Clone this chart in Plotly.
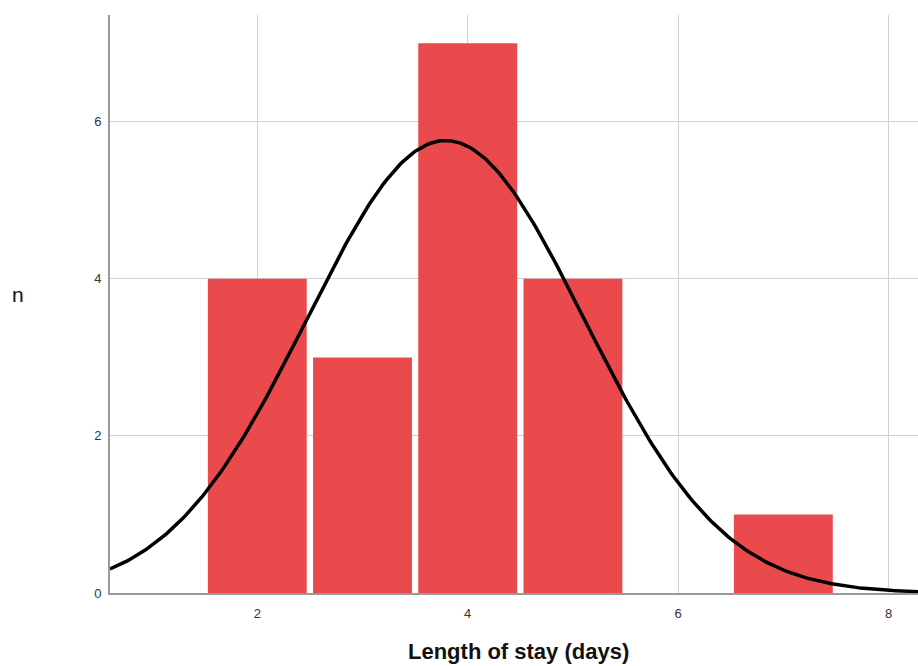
import numpy as np
import plotly.graph_objects as go

# Histogram data: length of stay (days) bin centres and counts
stay_days = [2, 3, 4, 5, 7]
counts = [4, 3, 7, 4, 1]
x_ticks = [2, 4, 6, 8]
y_ticks = [0, 2, 4, 6]

# Normal curve fitted to the data (mean/sd from the frequencies)
vals = np.repeat(stay_days, counts)
mu = vals.mean()
sd = vals.std(ddof=1)
n = len(vals)
xs = np.linspace(0.6, 8.3, 300)
ys = n * 1.0 / (sd * np.sqrt(2 * np.pi)) * np.exp(-0.5 * ((xs - mu) / sd) ** 2)

fig = go.Figure()
fig.add_trace(go.Bar(
    x=stay_days, y=counts, width=0.94,
    marker=dict(color="#EA4A4C", line=dict(width=0)),
    hoverinfo="x+y", showlegend=False,
))
fig.add_trace(go.Scatter(
    x=xs, y=ys, mode="lines",
    line=dict(color="black", width=3.5),
    showlegend=False, hoverinfo="skip",
))

fig.update_layout(
    width=918, height=666,
    margin=dict(l=110, r=0, t=15, b=73),
    plot_bgcolor="white", paper_bgcolor="white",
    font=dict(family="Liberation Sans, Arial, sans-serif", color="#333333"),
    xaxis=dict(
        range=[0.6, 8.28], tickvals=x_ticks, ticks="",
        showgrid=True, gridcolor="#d0d0d0", gridwidth=1,
        showline=True, linecolor="#999999", linewidth=2,
        zeroline=False, tickfont=dict(size=13, color="#333333"),
        ticklabelstandoff=7,
    ),
    yaxis=dict(
        range=[0, 7.36], tickvals=y_ticks, ticks="",
        showgrid=True, gridcolor="#d0d0d0", gridwidth=1,
        showline=True, linecolor="#999999", linewidth=2,
        zeroline=False, tickfont=dict(size=13, color="#333333"),
        ticklabelstandoff=4,
    ),
    annotations=[
        dict(
            text="n", xref="paper", yref="paper", x=-0.114, y=0.516,
            xanchor="center", yanchor="middle", showarrow=False,
            font=dict(size=21, color="#111111"),
        ),
        dict(
            text="<b>Length of stay (days)</b>", xref="paper", yref="paper",
            x=0.506, y=-0.102, xanchor="center", yanchor="middle",
            showarrow=False, font=dict(size=22, color="#111111"),
        ),
    ],
)

fig.write_html("out.html")
